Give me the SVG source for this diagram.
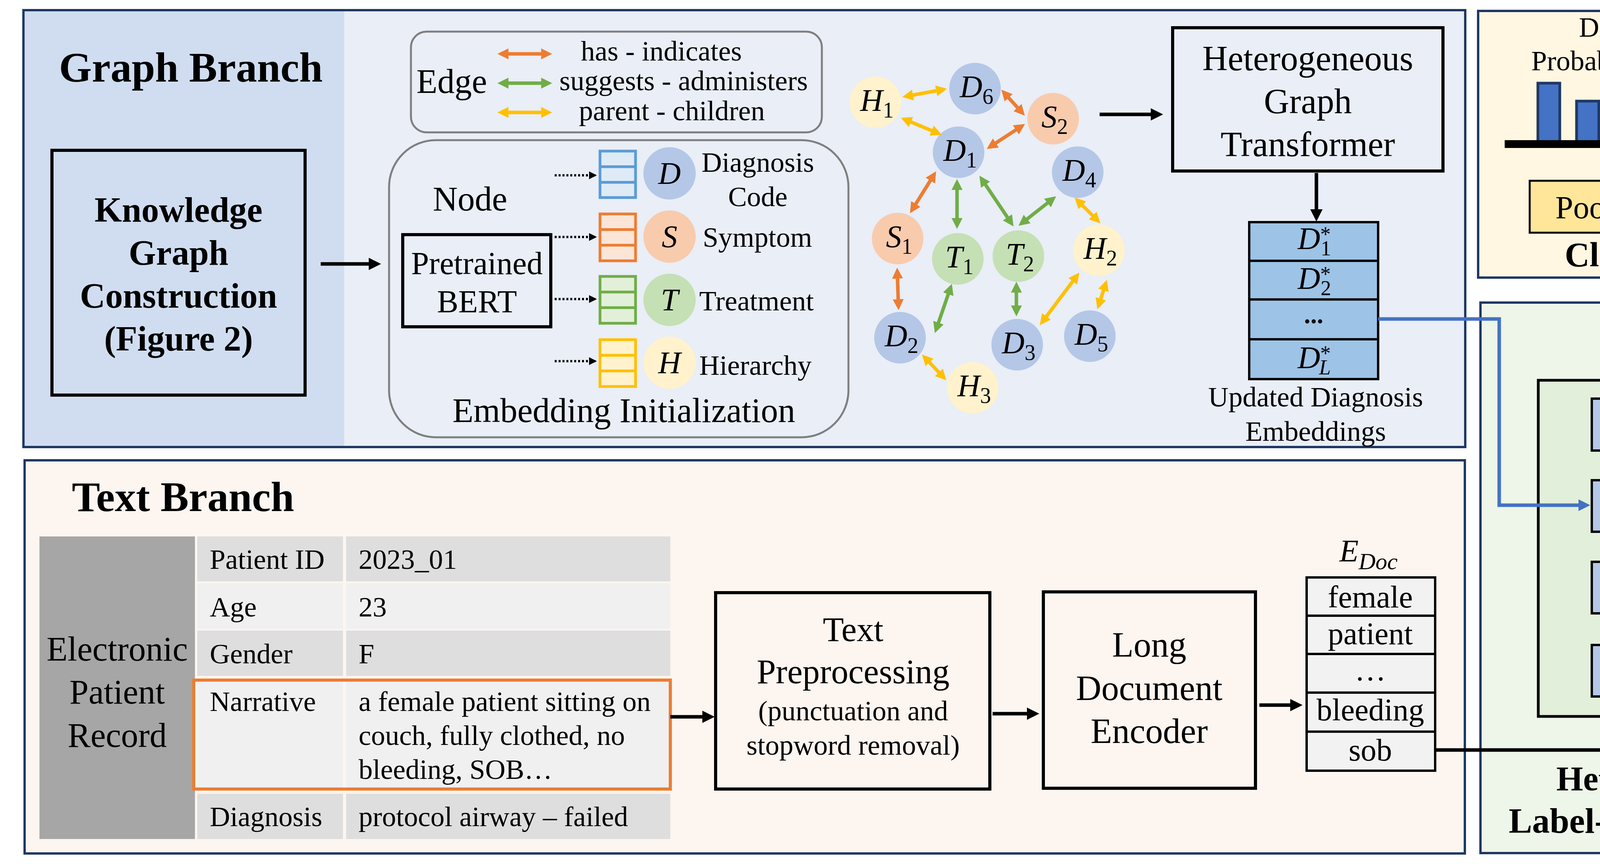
<svg xmlns="http://www.w3.org/2000/svg" width="4785" height="2213" viewBox="0 0 4785 2213">
<style>
.t{font-family:"Liberation Serif","Times New Roman",serif;fill:#000}
.b{font-weight:bold}
.i{font-style:italic}
.m{text-anchor:middle}
.f72{font-size:72px}
.f80{font-size:80px}
.f88{font-size:88px}
.f90{font-size:90px}
.panel{stroke:#1F3864;stroke-width:6}
.box{fill:none;stroke:#000;stroke-width:8}
.gray{fill:none;stroke:#7F7F7F;stroke-width:5}
.blk{stroke:#000;stroke-width:9;fill:none}
.eo{stroke:#ED7D31;stroke-width:9;fill:none;marker-start:url(#mo);marker-end:url(#mo)}
.eg{stroke:#70AD47;stroke-width:9;fill:none;marker-start:url(#mg);marker-end:url(#mg)}
.ey{stroke:#FFC000;stroke-width:9;fill:none;marker-start:url(#my);marker-end:url(#my)}
.nD{fill:#B4C7E7}.nS{fill:#F8CBAD}.nT{fill:#C5E0B4}.nH{fill:#FFF2CC}
.bl{fill:#B4C7E7;stroke:#000;stroke-width:6}
.bar{fill:#4472C4;stroke:#1F3864;stroke-width:7}
</style>
<defs>
<marker id="ab" markerUnits="userSpaceOnUse" markerWidth="32" markerHeight="32" viewBox="0 0 10 10" refX="7" refY="5" orient="auto"><path d="M0,0L10,5L0,10z" fill="#000"/></marker>
<marker id="ad" markerUnits="userSpaceOnUse" markerWidth="20" markerHeight="24" viewBox="0 0 10 10" refX="8" refY="5" orient="auto"><path d="M0,0L10,5L0,10z" fill="#000"/></marker>
<marker id="abl" markerUnits="userSpaceOnUse" markerWidth="32" markerHeight="30" viewBox="0 0 10 10" refX="7" refY="5" orient="auto"><path d="M0,0L10,5L0,10z" fill="#4472C4"/></marker>
<marker id="mo" markerUnits="userSpaceOnUse" markerWidth="28" markerHeight="28" viewBox="0 0 10 10" refX="7" refY="5" orient="auto-start-reverse"><path d="M0,0L10,5L0,10z" fill="#ED7D31"/></marker>
<marker id="mg" markerUnits="userSpaceOnUse" markerWidth="28" markerHeight="28" viewBox="0 0 10 10" refX="7" refY="5" orient="auto-start-reverse"><path d="M0,0L10,5L0,10z" fill="#70AD47"/></marker>
<marker id="my" markerUnits="userSpaceOnUse" markerWidth="28" markerHeight="28" viewBox="0 0 10 10" refX="7" refY="5" orient="auto-start-reverse"><path d="M0,0L10,5L0,10z" fill="#FFC000"/></marker>
</defs>
<rect width="4785" height="2213" fill="#fff"/>
<g id="panel-graph">
<rect x="60" y="26" width="3691" height="1119" fill="#E9EEF7"/>
<rect x="60" y="26" width="821" height="1119" fill="#D0DDF0"/>
<rect x="60" y="26" width="3691" height="1119" fill="none" class="panel"/>
<text class="t b" x="151" y="209" font-size="108">Graph Branch</text>
</g>
<g id="panel-text">
<rect x="63" y="1179" width="3687" height="1007" fill="#FDF5F0" class="panel"/>
<text class="t b" x="184" y="1309" font-size="108">Text Branch</text>
</g>
<g id="panel-classification">
<rect x="3784" y="28" width="994" height="683" fill="#FFF7E1" class="panel"/>
<text class="t m f72" x="4263" y="94">Diagnosis code</text>
<text class="t m f72" x="4263" y="180">Probability Distribution</text>
<rect x="3937" y="213" width="56" height="150" class="bar"/>
<rect x="4036" y="259" width="57" height="104" class="bar"/>
<rect x="4136" y="259" width="57" height="104" class="bar"/>
<rect x="4236" y="259" width="58" height="104" class="bar"/>
<rect x="4337" y="185" width="57" height="178" class="bar"/>
<rect x="4582" y="259" width="57" height="104" class="bar"/>
<rect x="4478" y="279" width="9" height="9" fill="#000"/>
<rect x="4478" y="305" width="9" height="9" fill="#000"/>
<rect x="4478" y="331" width="9" height="9" fill="#000"/>
<rect x="3852" y="359" width="822" height="20" fill="#000"/>
<text class="t b m f88" x="4260" y="682">Classification</text>
</g>
<g id="node-pooling">
<rect x="3916" y="463" width="678" height="133" fill="#FFE699" stroke="#000" stroke-width="5"/>
<text class="t m" font-size="82" x="4260" y="559">Pooling + Linear</text>
</g>
<g id="panel-attention">
<rect x="3790" y="775" width="991" height="1410" fill="#EEF5E9" class="panel"/>
<rect x="3938" y="974" width="594" height="861" fill="#E2EFDA" stroke="#000" stroke-width="7"/>
<text class="t b m f88" x="4262" y="2024">Heterogeneous</text>
<text class="t b m f90" x="4261" y="2133">Label-wise Attention</text>
</g>
<g id="node-kg">
<rect x="133" y="385" width="648" height="627" class="box" stroke-width="10"/>
<text class="t b m f90" x="457" y="568">Knowledge</text>
<text class="t b m f90" x="457" y="678">Graph</text>
<text class="t b m f90" x="457" y="788">Construction</text>
<text class="t b m f90" x="457" y="898">(Figure 2)</text>
</g>
<g id="legend-edge">
<rect x="1052" y="81" width="1052" height="258" rx="40" class="gray"/>
<text class="t f88" x="1066" y="238">Edge</text>
<line x1="1282" y1="138" x2="1405" y2="138" class="eo" stroke-width="10"/>
<line x1="1282" y1="213" x2="1405" y2="213" class="eg" stroke-width="10"/>
<line x1="1282" y1="288" x2="1405" y2="288" class="ey" stroke-width="10"/>
<text class="t m f72" x="1693" y="155">has - indicates</text>
<text class="t m f72" x="1750" y="231">suggests - administers</text>
<text class="t m f72" x="1720" y="308">parent - children</text>
</g>
<g id="node-embedding-init">
<rect x="996" y="359" width="1176" height="761" rx="120" class="gray"/>
<text class="t f88" x="1108" y="539">Node</text>
<text class="t m f88" x="1597" y="1081">Embedding Initialization</text>
<rect x="1031" y="601" width="379" height="236" class="box"/>
<text class="t m" font-size="82" x="1221" y="702">Pretrained</text>
<text class="t m" font-size="82" x="1221" y="800">BERT</text>
<g stroke="#000" stroke-width="6" stroke-dasharray="5 5" marker-end="url(#ad)">
<line x1="1420" y1="449" x2="1524" y2="449"/>
<line x1="1420" y1="607" x2="1524" y2="607"/>
<line x1="1420" y1="766" x2="1524" y2="766"/>
<line x1="1420" y1="925" x2="1524" y2="925"/>
</g>
<g stroke-width="7">
<rect x="1536" y="387" width="91" height="119" fill="#DEEBF7" stroke="#5B9BD5"/>
<path d="M1536,427H1627M1536,467H1627" stroke="#5B9BD5"/>
<rect x="1536" y="548" width="91" height="120" fill="#FBE5D6" stroke="#ED7D31"/>
<path d="M1536,588H1627M1536,628H1627" stroke="#ED7D31"/>
<rect x="1536" y="708" width="91" height="120" fill="#E2F0D9" stroke="#70AD47"/>
<path d="M1536,748H1627M1536,788H1627" stroke="#70AD47"/>
<rect x="1536" y="870" width="91" height="120" fill="#FFF2CC" stroke="#FFC000"/>
<path d="M1536,910H1627M1536,950H1627" stroke="#FFC000"/>
</g>
<circle cx="1714" cy="444" r="67" class="nD"/>
<circle cx="1714" cy="606" r="67" class="nS"/>
<circle cx="1714" cy="768" r="67" class="nT"/>
<circle cx="1714" cy="929" r="67" class="nH"/>
<text class="t i m f80" x="1714" y="471">D</text>
<text class="t i m f80" x="1714" y="633">S</text>
<text class="t i m f80" x="1714" y="795">T</text>
<text class="t i m f80" x="1714" y="956">H</text>
<text class="t m f72" x="1940" y="440">Diagnosis</text>
<text class="t m f72" x="1940" y="528">Code</text>
<text class="t f72" x="1799" y="632">Symptom</text>
<text class="t f72" x="1790" y="795">Treatment</text>
<text class="t f72" x="1790" y="960">Hierarchy</text>
</g>
<g id="node-H1"><circle cx="2241" cy="262" r="66" class="nH"/><text class="t m f80" x="2245" y="284"><tspan class="i">H</tspan><tspan font-size="56" dy="17">1</tspan></text></g>
<g id="node-D6"><circle cx="2496" cy="227" r="66" class="nD"/><text class="t m f80" x="2500" y="249"><tspan class="i">D</tspan><tspan font-size="56" dy="17">6</tspan></text></g>
<g id="node-S2"><circle cx="2696" cy="304" r="66" class="nS"/><text class="t m f80" x="2700" y="326"><tspan class="i">S</tspan><tspan font-size="56" dy="17">2</tspan></text></g>
<g id="node-D1"><circle cx="2454" cy="390" r="66" class="nD"/><text class="t m f80" x="2458" y="412"><tspan class="i">D</tspan><tspan font-size="56" dy="17">1</tspan></text></g>
<g id="node-D4"><circle cx="2759" cy="441" r="66" class="nD"/><text class="t m f80" x="2763" y="463"><tspan class="i">D</tspan><tspan font-size="56" dy="17">4</tspan></text></g>
<g id="node-S1"><circle cx="2298" cy="611" r="66" class="nS"/><text class="t m f80" x="2302" y="633"><tspan class="i">S</tspan><tspan font-size="56" dy="17">1</tspan></text></g>
<g id="node-T1"><circle cx="2452" cy="663" r="66" class="nT"/><text class="t m f80" x="2456" y="685"><tspan class="i">T</tspan><tspan font-size="56" dy="17">1</tspan></text></g>
<g id="node-T2"><circle cx="2607" cy="656" r="66" class="nT"/><text class="t m f80" x="2611" y="678"><tspan class="i">T</tspan><tspan font-size="56" dy="17">2</tspan></text></g>
<g id="node-H2"><circle cx="2813" cy="641" r="66" class="nH"/><text class="t m f80" x="2817" y="663"><tspan class="i">H</tspan><tspan font-size="56" dy="17">2</tspan></text></g>
<g id="node-D2"><circle cx="2304" cy="865" r="66" class="nD"/><text class="t m f80" x="2308" y="887"><tspan class="i">D</tspan><tspan font-size="56" dy="17">2</tspan></text></g>
<g id="node-D3"><circle cx="2604" cy="883" r="66" class="nD"/><text class="t m f80" x="2608" y="905"><tspan class="i">D</tspan><tspan font-size="56" dy="17">3</tspan></text></g>
<g id="node-D5"><circle cx="2790" cy="861" r="66" class="nD"/><text class="t m f80" x="2794" y="883"><tspan class="i">D</tspan><tspan font-size="56" dy="17">5</tspan></text></g>
<g id="node-H3"><circle cx="2490" cy="993" r="66" class="nH"/><text class="t m f80" x="2494" y="1015"><tspan class="i">H</tspan><tspan font-size="56" dy="17">3</tspan></text></g>
<g id="node-hgt">
<rect x="3002" y="71" width="692" height="367" class="box" stroke-width="10"/>
<text class="t m f90" x="3348" y="180">Heterogeneous</text>
<text class="t m f90" x="3348" y="290">Graph</text>
<text class="t m f90" x="3348" y="400">Transformer</text>
</g>
<g id="node-dstack">
<rect x="3198" y="569" width="330" height="402" fill="#9DC3E6" stroke="#000" stroke-width="6"/>
<path d="M3198,668H3528M3198,767H3528M3198,869H3528" stroke="#000" stroke-width="6"/>
<text class="t" x="3322" y="638"><tspan class="i f80">D</tspan><tspan font-size="54" dy="-20">*</tspan><tspan font-size="54" dx="-26" dy="36">1</tspan></text>
<text class="t" x="3322" y="740"><tspan class="i f80">D</tspan><tspan font-size="54" dy="-20">*</tspan><tspan font-size="54" dx="-26" dy="36">2</tspan></text>
<text class="t b m" font-size="66" x="3363" y="828">...</text>
<text class="t" x="3322" y="943"><tspan class="i f80">D</tspan><tspan font-size="54" dy="-20">*</tspan><tspan class="i" font-size="54" dx="-30" dy="36">L</tspan></text>
<text class="t m f72" x="3368" y="1041">Updated Diagnosis</text>
<text class="t m f72" x="3368" y="1129">Embeddings</text>
</g>
<g id="node-epr">
<rect x="101" y="1374" width="398" height="775" fill="#A6A6A6"/>
<text class="t m f88" x="300" y="1692">Electronic</text>
<text class="t m f88" x="300" y="1802">Patient</text>
<text class="t m f88" x="300" y="1913">Record</text>
<rect x="505" y="1374" width="373" height="115" fill="#DEDEDE"/><rect x="886" y="1374" width="830" height="115" fill="#DEDEDE"/>
<rect x="505" y="1494" width="373" height="117" fill="#F0F0F0"/><rect x="886" y="1494" width="830" height="117" fill="#F0F0F0"/>
<rect x="505" y="1615" width="373" height="116" fill="#DEDEDE"/><rect x="886" y="1615" width="830" height="116" fill="#DEDEDE"/>
<rect x="505" y="1740" width="373" height="281" fill="#F0F0F0"/><rect x="886" y="1740" width="830" height="281" fill="#F0F0F0"/>
<rect x="505" y="2033" width="373" height="116" fill="#DEDEDE"/><rect x="886" y="2033" width="830" height="116" fill="#DEDEDE"/>
<rect x="496" y="1742" width="1220" height="279" fill="none" stroke="#ED7D31" stroke-width="8"/>
<text class="t f72" x="537" y="1457">Patient ID</text><text class="t f72" x="918" y="1457">2023_01</text>
<text class="t f72" x="537" y="1579">Age</text><text class="t f72" x="918" y="1579">23</text>
<text class="t f72" x="537" y="1699">Gender</text><text class="t f72" x="918" y="1699">F</text>
<text class="t f72" x="537" y="1821">Narrative</text>
<text class="t f72" x="918" y="1821">a female patient sitting on</text>
<text class="t f72" x="918" y="1908">couch, fully clothed, no</text>
<text class="t f72" x="918" y="1995">bleeding, SOB…</text>
<text class="t f72" x="537" y="2116">Diagnosis</text><text class="t f72" x="918" y="2116">protocol airway – failed</text>
</g>
<g id="node-preprocessing">
<rect x="1832" y="1518" width="702" height="503" class="box"/>
<text class="t m f88" x="2184" y="1642">Text</text>
<text class="t m f88" x="2184" y="1750">Preprocessing</text>
<text class="t m f72" x="2184" y="1845">(punctuation and</text>
<text class="t m f72" x="2184" y="1933">stopword removal)</text>
</g>
<g id="node-encoder">
<rect x="2671" y="1516" width="543" height="503" class="box"/>
<text class="t m f90" x="2942" y="1682">Long</text>
<text class="t m f90" x="2942" y="1793">Document</text>
<text class="t m f90" x="2942" y="1903">Encoder</text>
</g>
<g id="node-edoc">
<text class="t i" x="3429" y="1438"><tspan class="f80">E</tspan><tspan font-size="60" dy="20">Doc</tspan></text>
<rect x="3345" y="1479" width="329" height="495" fill="#F2F2F2" stroke="#000" stroke-width="6"/>
<path d="M3345,1577H3674M3345,1675H3674M3345,1774H3674M3345,1874H3674" stroke="#000" stroke-width="6"/>
<text class="t m f80" x="3508" y="1556">female</text>
<text class="t m f80" x="3508" y="1650">patient</text>
<text class="t m f80" x="3508" y="1743">…</text>
<text class="t m f80" x="3508" y="1845">bleeding</text>
<text class="t m f80" x="3508" y="1948">sob</text>
</g>
<g id="node-softmax"><rect x="4075" y="1021" width="332" height="133" class="bl"/><text class="t m f80" x="4241" y="1114">Softmax</text></g>
<g id="node-product"><rect x="4075" y="1230" width="332" height="132" class="bl"/><text class="t m f80" x="4241" y="1323">Product</text></g>
<g id="node-tanh"><rect x="4075" y="1439" width="332" height="132" class="bl"/><text class="t m f80" x="4241" y="1532">Tanh</text></g>
<g id="node-linear"><rect x="4075" y="1652" width="332" height="132" class="bl"/><text class="t m f80" x="4241" y="1745">Linear</text></g>
<g id="node-otimes">
<circle cx="4238" cy="854" r="57" fill="#fff" stroke="#000" stroke-width="8"/>
<path d="M4198,814L4278,894M4278,814L4198,894" stroke="#000" stroke-width="6"/>
</g>
<g id="connectors">
<line x1="821" y1="676" x2="966" y2="676" class="blk" marker-end="url(#ab)"/>
<line x1="2815" y1="293" x2="2968" y2="293" class="blk" marker-end="url(#ab)"/>
<line x1="3370" y1="443" x2="3370" y2="558" class="blk" stroke-width="7" marker-end="url(#ab)"/>
<line x1="1716" y1="1836" x2="1820" y2="1836" class="blk" marker-end="url(#ab)"/>
<line x1="2541" y1="1828" x2="2651" y2="1828" class="blk" marker-end="url(#ab)"/>
<line x1="3224" y1="1806" x2="3325" y2="1806" class="blk" marker-end="url(#ab)"/>
<polyline points="3674,1921 4653,1921 4653,854 4307,854" class="blk" stroke-width="10" marker-end="url(#ab)"/>
<line x1="4241" y1="1921" x2="4241" y2="1796" class="blk" stroke-width="10" marker-end="url(#ab)"/>
<line x1="4241" y1="1652" x2="4241" y2="1583" class="blk" stroke-width="10" marker-end="url(#ab)"/>
<line x1="4241" y1="1439" x2="4241" y2="1374" class="blk" stroke-width="10" marker-end="url(#ab)"/>
<line x1="4241" y1="1230" x2="4241" y2="1166" class="blk" stroke-width="10" marker-end="url(#ab)"/>
<line x1="4241" y1="1021" x2="4241" y2="922" class="blk" stroke-width="10" marker-end="url(#ab)"/>
<line x1="4241" y1="797" x2="4241" y2="722" class="blk" stroke-width="10" marker-end="url(#ab)"/>
<line x1="4242" y1="463" x2="4242" y2="396" class="blk" stroke-width="10" marker-end="url(#ab)"/>
<polyline points="3528,817 3838,817 3838,1294 4062,1294" fill="none" stroke="#4472C4" stroke-width="9" marker-end="url(#abl)"/>
<line x1="2318" y1="247" x2="2416" y2="229" class="ey"/>
<line x1="2569" y1="236" x2="2618" y2="290" class="eo"/>
<line x1="2314" y1="305" x2="2403" y2="342" class="ey"/>
<line x1="2617" y1="322" x2="2533" y2="377" class="eo"/>
<line x1="2392" y1="446" x2="2334" y2="539" class="eo"/>
<line x1="2450" y1="467" x2="2450" y2="578" class="eg"/>
<line x1="2512" y1="457" x2="2590" y2="573" class="eg"/>
<line x1="2697" y1="508" x2="2614" y2="573" class="eg"/>
<line x1="2757" y1="512" x2="2811" y2="566" class="ey"/>
<line x1="2297" y1="694" x2="2300" y2="786" class="eo"/>
<line x1="2434" y1="735" x2="2396" y2="845" class="eg"/>
<line x1="2602" y1="730" x2="2602" y2="802" class="eg"/>
<line x1="2758" y1="705" x2="2667" y2="826" class="ey"/>
<line x1="2831" y1="725" x2="2812" y2="784" class="ey"/>
<line x1="2366" y1="914" x2="2417" y2="968" class="ey"/>
</g>
</svg>
